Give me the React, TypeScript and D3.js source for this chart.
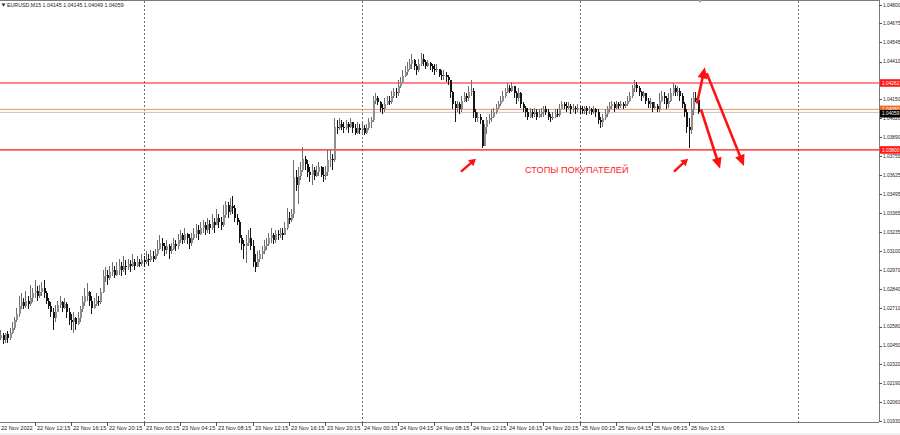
import React from "react";
import * as d3 from "d3";

// ---- DATA ----
const symbolHeader = "EURUSD,M15  1.04145 1.04145 1.04049 1.04059";
const startTime = new Date(2022, 10, 22, 8, 15); // bar index 0
const firstOpen = 1.025;

const closes = [
  1.0252,1.0249,1.0253,1.0250,1.0254,1.0257,1.0263,1.0267,1.0272,1.0275,
  1.0272,1.0276,1.0274,1.0278,1.0281,1.0283,1.0279,1.0282,1.0285,1.0281,
  1.0276,1.0272,1.0268,1.0264,1.0268,1.0273,1.0275,1.0271,1.0274,1.0268,
  1.0263,1.0261,1.0264,1.0260,1.0264,1.0270,1.0275,1.0279,1.0282,1.0276,
  1.0271,1.0274,1.0276,1.0275,1.0282,1.0293,1.0294,1.0292,1.0296,1.0297,
  1.0294,1.0297,1.0300,1.0297,1.0300,1.0299,1.0301,1.0300,1.0303,1.0300,
  1.0303,1.0301,1.0304,1.0303,1.0305,1.0304,1.0307,1.0305,1.0308,1.0312,
  1.0316,1.0314,1.0311,1.0314,1.0310,1.0312,1.0315,1.0314,1.0318,1.0321,
  1.0318,1.0322,1.0319,1.0316,1.0319,1.0322,1.0325,1.0322,1.0326,1.0328,
  1.0325,1.0329,1.0326,1.0330,1.0328,1.0333,1.0330,1.0328,1.0335,1.0342,
  1.0337,1.0341,1.0340,1.0333,1.0330,1.0319,1.0315,1.0314,1.0316,1.0319,
  1.0314,1.0303,1.0299,1.0305,1.0308,1.0310,1.0314,1.0315,1.0319,1.0321,
  1.0318,1.0322,1.0321,1.0323,1.0321,1.0326,1.0333,1.0332,1.0336,1.0361,
  1.0356,1.0362,1.0366,1.0374,1.0370,1.0365,1.0363,1.0366,1.0362,1.0365,
  1.0368,1.0363,1.0362,1.0365,1.0373,1.0374,1.0373,1.0396,1.0395,1.0398,
  1.0396,1.0395,1.0398,1.0396,1.0399,1.0395,1.0392,1.0395,1.0394,1.0395,
  1.0392,1.0395,1.0399,1.0401,1.0414,1.0416,1.0413,1.0409,1.0408,1.0412,
  1.0414,1.0413,1.0417,1.0420,1.0419,1.0424,1.0427,1.0431,1.0434,1.0436,
  1.0439,1.0442,1.0438,1.0435,1.0439,1.0443,1.0441,1.0438,1.0440,1.0438,
  1.0436,1.0435,1.0436,1.0432,1.0431,1.0432,1.0430,1.0428,1.0420,1.0412,
  1.0409,1.0412,1.0408,1.0414,1.0417,1.0416,1.0420,1.0421,1.0406,1.0402,
  1.0403,1.0401,1.0383,1.0396,1.0401,1.0402,1.0403,1.0406,1.0409,1.0412,
  1.0414,1.0417,1.0420,1.0423,1.0421,1.0424,1.0419,1.0416,1.0419,1.0412,
  1.0409,1.0406,1.0403,1.0406,1.0405,1.0406,1.0403,1.0405,1.0406,1.0408,
  1.0406,1.0403,1.0402,1.0403,1.0405,1.0404,1.0408,1.0412,1.0410,1.0409,
  1.0410,1.0408,1.0409,1.0408,1.0409,1.0408,1.0407,1.0409,1.0407,1.0408,
  1.0406,1.0408,1.0406,1.0401,1.0399,1.0402,1.0405,1.0408,1.0410,1.0412,
  1.0409,1.0412,1.0410,1.0412,1.0410,1.0412,1.0414,1.0417,1.0423,1.0425,
  1.0423,1.0420,1.0417,1.0419,1.0414,1.0412,1.0413,1.0409,1.0410,1.0408,
  1.0414,1.0417,1.0416,1.0412,1.0414,1.0419,1.0423,1.0420,1.0421,1.0417,
  1.0412,1.0406,1.0396,1.0394,1.0408,1.0416,1.04145,1.04059,
];

const highs = [
  1.0256,1.0254,1.0254,1.0255,1.0257,1.0261,1.0265,1.0271,1.0279,1.0281,
  1.0278,1.0283,1.0279,1.0287,1.0285,1.0290,1.0286,1.0287,1.0289,1.0290,
  1.0283,1.0278,1.0275,1.0271,1.0273,1.0276,1.0279,1.0276,1.0278,1.0275,
  1.0271,1.0267,1.0268,1.0265,1.0268,1.0272,1.0279,1.0285,1.0288,1.0283,
  1.0279,1.0278,1.0281,1.0279,1.0285,1.0297,1.0299,1.0297,1.0300,1.0303,
  1.0300,1.0303,1.0305,1.0303,1.0307,1.0304,1.0305,1.0304,1.0308,1.0305,
  1.0307,1.0305,1.0308,1.0307,1.0310,1.0308,1.0311,1.0310,1.0312,1.0318,
  1.0321,1.0319,1.0316,1.0318,1.0315,1.0316,1.0319,1.0318,1.0322,1.0325,
  1.0323,1.0326,1.0323,1.0322,1.0323,1.0326,1.0329,1.0328,1.0330,1.0332,
  1.0330,1.0333,1.0332,1.0336,1.0333,1.0339,1.0336,1.0334,1.0342,1.0345,
  1.0344,1.0347,1.0348,1.0342,1.0336,1.0332,1.0321,1.0318,1.0321,1.0325,
  1.0326,1.0318,1.0308,1.0310,1.0311,1.0314,1.0318,1.0319,1.0323,1.0326,
  1.0323,1.0325,1.0325,1.0326,1.0326,1.0330,1.0340,1.0337,1.0339,1.0373,
  1.0366,1.0368,1.0372,1.0382,1.0376,1.0373,1.0368,1.0370,1.0368,1.0369,
  1.0372,1.0369,1.0368,1.0369,1.0380,1.0380,1.0377,1.0402,1.0401,1.0402,
  1.0401,1.0399,1.0401,1.0399,1.0402,1.0399,1.0398,1.0399,1.0398,1.0399,
  1.0397,1.0398,1.0402,1.0403,1.0417,1.0419,1.0417,1.0414,1.0412,1.0416,
  1.0417,1.0417,1.0421,1.0423,1.0423,1.0428,1.0430,1.0435,1.0438,1.0441,
  1.0443,1.0446,1.0443,1.0439,1.0443,1.0447,1.0446,1.0442,1.0442,1.0441,
  1.0439,1.0439,1.0439,1.0436,1.0435,1.0435,1.0434,1.0432,1.0428,1.0421,
  1.0414,1.0414,1.0413,1.0417,1.0420,1.0419,1.0424,1.0428,1.0423,1.0408,
  1.0406,1.0405,1.0401,1.0398,1.0403,1.0405,1.0408,1.0409,1.0412,1.0414,
  1.0417,1.0421,1.0423,1.0426,1.0425,1.0427,1.0424,1.0421,1.0423,1.0420,
  1.0413,1.0410,1.0409,1.0409,1.0408,1.0409,1.0408,1.0408,1.0409,1.0410,
  1.0410,1.0408,1.0405,1.0406,1.0408,1.0408,1.0412,1.0414,1.0413,1.0413,
  1.0413,1.0412,1.0412,1.0410,1.0412,1.0410,1.0410,1.0410,1.0410,1.0410,
  1.0409,1.0410,1.0409,1.0408,1.0403,1.0405,1.0408,1.0410,1.0413,1.0414,
  1.0413,1.0414,1.0413,1.0414,1.0413,1.0414,1.0417,1.0420,1.0425,1.0428,
  1.0427,1.0424,1.0421,1.0421,1.0419,1.0416,1.0416,1.0413,1.0413,1.0412,
  1.0419,1.0421,1.0420,1.0417,1.0419,1.0423,1.0426,1.0425,1.0424,1.0423,
  1.0419,1.0413,1.0408,1.0402,1.0416,1.0420,1.0420,1.04145,
];

const lows = [
  1.0249,1.0246,1.0247,1.0247,1.0249,1.0253,1.0256,1.0261,1.0265,1.0270,
  1.0270,1.0271,1.0270,1.0272,1.0275,1.0278,1.0276,1.0278,1.0279,1.0278,
  1.0274,1.0270,1.0265,1.0256,1.0261,1.0268,1.0271,1.0268,1.0270,1.0264,
  1.0259,1.0256,1.0254,1.0256,1.0259,1.0261,1.0268,1.0272,1.0276,1.0272,
  1.0267,1.0270,1.0272,1.0272,1.0274,1.0281,1.0289,1.0287,1.0290,1.0293,
  1.0292,1.0293,1.0294,1.0293,1.0296,1.0294,1.0297,1.0296,1.0299,1.0297,
  1.0299,1.0299,1.0300,1.0299,1.0301,1.0300,1.0303,1.0303,1.0304,1.0307,
  1.0311,1.0310,1.0307,1.0308,1.0305,1.0308,1.0311,1.0310,1.0312,1.0316,
  1.0315,1.0316,1.0315,1.0312,1.0314,1.0318,1.0319,1.0318,1.0321,1.0323,
  1.0321,1.0323,1.0322,1.0325,1.0323,1.0328,1.0326,1.0325,1.0327,1.0333,
  1.0333,1.0335,1.0336,1.0330,1.0328,1.0316,1.0311,1.0305,1.0302,1.0314,
  1.0311,1.0299,1.0296,1.0299,1.0303,1.0305,1.0308,1.0311,1.0314,1.0316,
  1.0315,1.0316,1.0318,1.0319,1.0318,1.0321,1.0325,1.0329,1.0330,1.0333,
  1.0352,1.0343,1.0359,1.0365,1.0366,1.0361,1.0358,1.0356,1.0359,1.0361,
  1.0362,1.0361,1.0358,1.0359,1.0362,1.0368,1.0366,1.0372,1.0391,1.0394,
  1.0394,1.0392,1.0394,1.0392,1.0395,1.0392,1.0390,1.0391,1.0391,1.0391,
  1.0390,1.0391,1.0394,1.0395,1.0399,1.0412,1.0411,1.0406,1.0405,1.0406,
  1.0411,1.0411,1.0412,1.0416,1.0416,1.0417,1.0423,1.0426,1.0430,1.0432,
  1.0435,1.0436,1.0435,1.0432,1.0434,1.0438,1.0438,1.0436,1.0437,1.0435,
  1.0434,1.0432,1.0434,1.0430,1.0428,1.0428,1.0427,1.0425,1.0416,1.0408,
  1.0399,1.0406,1.0405,1.0406,1.0413,1.0413,1.0414,1.0417,1.0402,1.0399,
  1.0399,1.0398,1.0381,1.0383,1.0391,1.0398,1.0399,1.0402,1.0405,1.0408,
  1.0410,1.0413,1.0416,1.0419,1.0419,1.0420,1.0416,1.0412,1.0414,1.0409,
  1.0406,1.0403,1.0401,1.0402,1.0402,1.0403,1.0401,1.0402,1.0403,1.0403,
  1.0404,1.0401,1.0399,1.0401,1.0402,1.0403,1.0403,1.0408,1.0408,1.0406,
  1.0408,1.0405,1.0406,1.0405,1.0406,1.0405,1.0405,1.0405,1.0404,1.0405,
  1.0404,1.0405,1.0403,1.0398,1.0395,1.0396,1.0401,1.0403,1.0406,1.0408,
  1.0406,1.0408,1.0408,1.0409,1.0408,1.0409,1.0410,1.0413,1.0416,1.0420,
  1.0420,1.0417,1.0414,1.0416,1.0412,1.0409,1.0409,1.0406,1.0408,1.0406,
  1.0406,1.0413,1.0412,1.0408,1.0409,1.0413,1.0417,1.0417,1.0417,1.0414,
  1.0409,1.0403,1.0392,1.0381,1.0391,1.0404,1.0413,1.04049,
];

const priceTicks = [
  1.048, 1.04675, 1.04545, 1.0441, 1.0415, 1.0402, 1.0389, 1.03755, 1.03625,
  1.03495, 1.03365, 1.03235, 1.031, 1.0297, 1.0284, 1.0271, 1.0258, 1.0245,
  1.0232, 1.0219, 1.0206, 1.0193,
];

const redLevels = [1.04262, 1.038];
const orangeLevel = 1.0408;
const bidLevel = 1.04059;

// annotations in (bar index, price)
const bigArrows = [
  { x1: 307.7, p1: 1.0412, x2: 311.2, p2: 1.0437 },
  { x1: 312.0, p1: 1.0433, x2: 328.4, p2: 1.0369 },
  { x1: 309.5, p1: 1.0408, x2: 317.9, p2: 1.0367 },
];
const smallArrows = [
  { x1: 203.8, p1: 1.0365, x2: 210.4, p2: 1.0374 },
  { x1: 297.6, p1: 1.0365, x2: 303.8, p2: 1.0374 },
];
const noteText = "СТОПЫ ПОКУПАТЕЛЕЙ";
const notePos = { bar: 232, price: 1.0364 };

// ---- LAYOUT ----
const W = 900;
const H = 435;
const plotRight = 879;
const plotBottom = 422;
const barStep = 2.2708;

const x = d3.scaleLinear().domain([0, 396]).range([-1.8, -1.8 + 396 * barStep]);
const y = d3.scaleLinear().domain([1.0193, 1.048]).range([421, 5]);

const fmtTime = d3.timeFormat("%d %b %H:%M");
const timeAt = (k: number) => d3.timeMinute.offset(startTime, 15 * k);

const FONT = "Liberation Sans, Arial, sans-serif";
const AXF = 4.8;

function arrowShape(
  a: { x1: number; p1: number; x2: number; p2: number },
  headLen: number,
  headHalf: number
) {
  const sx = x(a.x1), sy = y(a.p1), ex = x(a.x2), ey = y(a.p2);
  const dx = ex - sx, dy = ey - sy;
  const len = Math.hypot(dx, dy);
  const ux = dx / len, uy = dy / len;
  const bx = ex - ux * headLen, by = ey - uy * headLen;
  const px = -uy, py = ux;
  const head = [
    [ex, ey],
    [bx + px * headHalf, by + py * headHalf],
    [bx - px * headHalf, by - py * headHalf],
  ];
  return {
    line: { x1: sx, y1: sy, x2: bx + ux * 1, y2: by + uy * 1 },
    head: head.map((p) => p.join(",")).join(" "),
  };
}

export default function App() {
  const candles = closes.map((c, i) => {
    const o = i === 0 ? firstOpen : closes[i - 1];
    const h = Math.max(highs[i], o, c);
    const l = Math.min(lows[i], o, c);
    const px = Math.round(x(i + 1));
    const bull = c >= o;
    const top = y(Math.max(o, c));
    const bot = y(Math.min(o, c));
    return { px, bull, yh: y(h), yl: y(l), top, bh: Math.max(1, bot - top) };
  });

  const timeTicks: number[] = [];
  for (let k = 0; k <= 304; k += 16) timeTicks.push(k);

  const separators: number[] = [];
  for (let k = 0; k <= 396; k++) {
    const t = timeAt(k);
    if (t.getHours() === 0 && t.getMinutes() === 15) separators.push(k);
  }

  return (
    <svg
      width={W}
      height={H}
      style={{ position: "absolute", left: 0, top: 0, display: "block", background: "#fff" }}
      fontFamily={FONT}
    >
      <rect x={0} y={0} width={W} height={H} fill="#fff" />
      <rect x={0} y={433} width={W} height={2} fill="#f0f0f0" />

      {/* frame */}
      <line x1={0} y1={0.5} x2={plotRight} y2={0.5} stroke="#7a7a7a" strokeWidth={1} />
      <line x1={plotRight + 0.5} y1={0} x2={plotRight + 0.5} y2={plotBottom} stroke="#7a7a7a" />
      <line x1={0} y1={plotBottom + 0.5} x2={plotRight} y2={plotBottom + 0.5} stroke="#7a7a7a" />
      <path d="M698,0 L702,0 L700,3 Z" fill="#9a9a9a" />

      {/* day separators */}
      {separators.map((k) => (
        <line
          key={"s" + k}
          x1={Math.round(x(k)) + 0.5}
          x2={Math.round(x(k)) + 0.5}
          y1={1}
          y2={plotBottom}
          stroke="#707070"
          strokeDasharray="2,2"
          strokeWidth={1}
        />
      ))}

      {/* level lines */}
      <line x1={0} x2={plotRight} y1={y(orangeLevel)} y2={y(orangeLevel)} stroke="#f7925a" strokeWidth={1} />
      <line x1={0} x2={plotRight} y1={y(bidLevel)} y2={y(bidLevel)} stroke="#c4c4c4" strokeWidth={1} />
      {redLevels.map((p) => (
        <line key={"r" + p} x1={0} x2={plotRight} y1={y(p)} y2={y(p)} stroke="#ff1010" strokeWidth={1.2} />
      ))}

      {/* candles */}
      <g shapeRendering="crispEdges">
        {candles.map((c, i) => (
          <g key={i}>
            <line
              x1={c.px + 0.5}
              x2={c.px + 0.5}
              y1={c.yh}
              y2={c.yl}
              stroke={c.bull ? "#6e6e6e" : "#151515"}
              strokeWidth={1}
            />
            <rect
              x={c.px - 0.5}
              y={c.top}
              width={2}
              height={c.bh}
              fill={c.bull ? "#8e8e8e" : "#151515"}
            />
          </g>
        ))}
      </g>

      {/* price axis */}
      {priceTicks.map((p) => (
        <g key={"p" + p}>
          <line x1={plotRight} x2={plotRight + 3} y1={Math.round(y(p)) + 0.5} y2={Math.round(y(p)) + 0.5} stroke="#555" />
          <text x={883} y={y(p)} dy="0.35em" fontSize={AXF} fill="#222">
            {p.toFixed(5)}
          </text>
        </g>
      ))}
      {redLevels.map((p) => (
        <g key={"rl" + p}>
          <rect x={plotRight + 1} y={y(p) - 3.8} width={21} height={7.6} fill="#ff1a1a" />
          <text x={882} y={y(p)} dy="0.35em" fontSize={AXF} fill="#fff">
            {p.toFixed(5)}
          </text>
        </g>
      ))}
      <rect x={plotRight + 1} y={y(orangeLevel) - 3.8} width={21} height={7.6} fill="#f26b21" />
      <text x={882} y={y(orangeLevel)} dy="0.35em" fontSize={AXF} fill="#fff">
        {orangeLevel.toFixed(5)}
      </text>
      <rect x={plotRight + 1} y={y(bidLevel) - 2.5} width={21} height={7.6} fill="#000" />
      <text x={882} y={y(bidLevel) + 1.3} dy="0.35em" fontSize={AXF} fill="#fff">
        {bidLevel.toFixed(5)}
      </text>

      {/* time axis */}
      {timeTicks.map((k) => {
        const tx = Math.round(x(k)) + 0.5;
        return (
          <g key={"t" + k}>
            {k > 0 && <line x1={tx} x2={tx} y1={plotBottom} y2={plotBottom + 4} stroke="#555" />}
            <text x={k === 0 ? 1 : tx + 1.5} y={430} fontSize={5.6} fill="#222">
              {k === 0 ? "22 Nov 2022" : fmtTime(timeAt(k))}
            </text>
          </g>
        );
      })}

      {/* header */}
      <path d="M1.5,3.5 L5.5,3.5 L3.5,6.5 Z" fill="#222" />
      <text x={7} y={7} fontSize={5.3} fill="#222">
        {symbolHeader}
      </text>

      {/* annotations */}
      {bigArrows.map((a, i) => {
        const s = arrowShape(a, 11, 5);
        return (
          <g key={"ba" + i}>
            <line {...s.line} stroke="#ff1010" strokeWidth={2.6} strokeLinecap="butt" />
            <polygon points={s.head} fill="#ff1010" />
          </g>
        );
      })}
      {smallArrows.map((a, i) => {
        const s = arrowShape(a, 7, 4);
        return (
          <g key={"sa" + i}>
            <line {...s.line} stroke="#ff1010" strokeWidth={2.4} />
            <polygon points={s.head} fill="#ff1010" />
          </g>
        );
      })}
      <text x={x(notePos.bar)} y={y(notePos.price)} fontSize={9.2} fill="#ff1a1a">
        {noteText}
      </text>
    </svg>
  );
}
